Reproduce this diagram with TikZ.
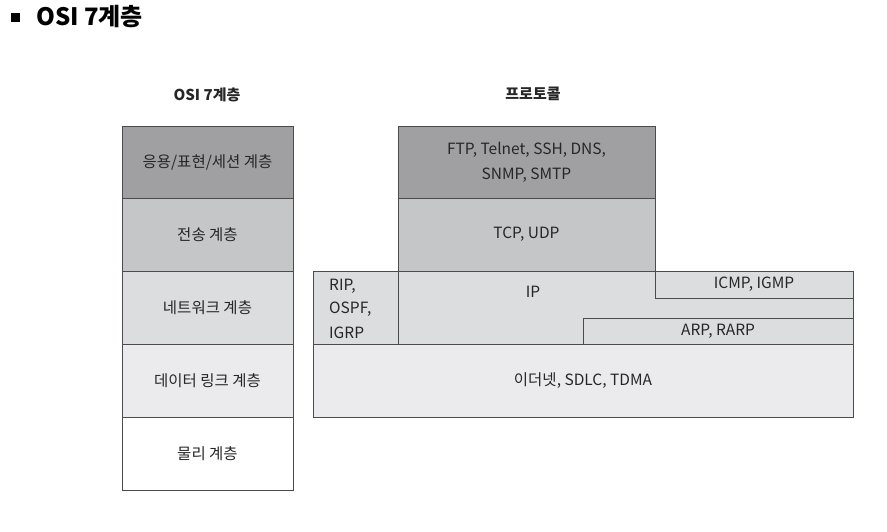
\documentclass[tikz,border=0pt]{standalone}
\usepackage{fontspec}
\setmainfont{Noto Sans CJK KR}
\begin{document}
\begin{tikzpicture}[x=1pt,y=-1pt,
  lay/.style={draw=black!70, line width=0.8pt, inner sep=0pt, outer sep=0pt, text=black!85,
    font=\fontsize{15.5}{25}\selectfont, align=center},
  lbl/.style={inner sep=0pt, text=black!85, font=\fontsize{15.5}{23}\selectfont},
  hdr/.style={inner sep=0pt, text=black!85, font=\fontsize{15}{16}\selectfont\bfseries}]
\definecolor{g1}{HTML}{A0A0A3}
\definecolor{g2}{HTML}{C5C6C8}
\definecolor{g3}{HTML}{DCDDDF}
\definecolor{g4}{HTML}{EBEBED}
\useasboundingbox (0,0) rectangle (887,532);
% title
\fill[black] (11,13) rectangle (20,22);
\node[anchor=west, inner sep=0pt, font=\fontsize{24}{26}\selectfont\bfseries] (title) at (36,17) {OSI 7계층};
% headers
\node[hdr] (hl) at (207,95) {OSI 7계층};
\node[hdr] (hr) at (533,94) {프로토콜};
% left column
\node[lay, fill=g1, minimum width=171pt, minimum height=72pt] (l1) at (207.5,162) {응용/표현/세션 계층};
\node[lay, fill=g2, minimum width=171pt, minimum height=73pt] (l2) at (207.5,234.5) {전송 계층};
\node[lay, fill=g3, minimum width=171pt, minimum height=73pt] (l3) at (207.5,307.5) {네트워크 계층};
\node[lay, fill=g4, minimum width=171pt, minimum height=73pt] (l4) at (207.5,380.5) {데이터 링크 계층};
\node[lay, fill=white, minimum width=171pt, minimum height=73pt] (l5) at (207.5,453.5) {물리 계층};
% right column
\node[lay, fill=g1, minimum width=257pt, minimum height=72pt] (ftp) at (526.5,162) {FTP, Telnet, SSH, DNS,\\SNMP, SMTP};
\node[lay, fill=g2, minimum width=257pt, minimum height=73pt] (tcp) at (526.5,234.5) {TCP, UDP};
\node[lay, fill=g3, minimum width=540pt, minimum height=73pt] (net) at (583,307.5) {};
\node[lay, fill=g3, minimum width=85pt, minimum height=73pt] (rip) at (355.5,307.5) {};
\node[lbl, anchor=west] (ripa) at (329,286) {RIP,};
\node[lbl, anchor=west] (ripb) at (329,309.5) {OSPF,};
\node[lbl, anchor=west] (ripc) at (329,333) {IGRP};
\node[lbl] (ip) at (533,292) {IP};
\node[lay, fill=g3, minimum width=198pt, minimum height=27pt] (icmp) at (754,284.5) {ICMP, IGMP};
\node[lay, fill=g3, minimum width=270pt, minimum height=26pt] (arp) at (718,331) {ARP, RARP};
\node[lay, fill=g4, minimum width=540pt, minimum height=73pt] (data) at (583,380.5) {이더넷, SDLC, TDMA};
\end{tikzpicture}
\end{document}
